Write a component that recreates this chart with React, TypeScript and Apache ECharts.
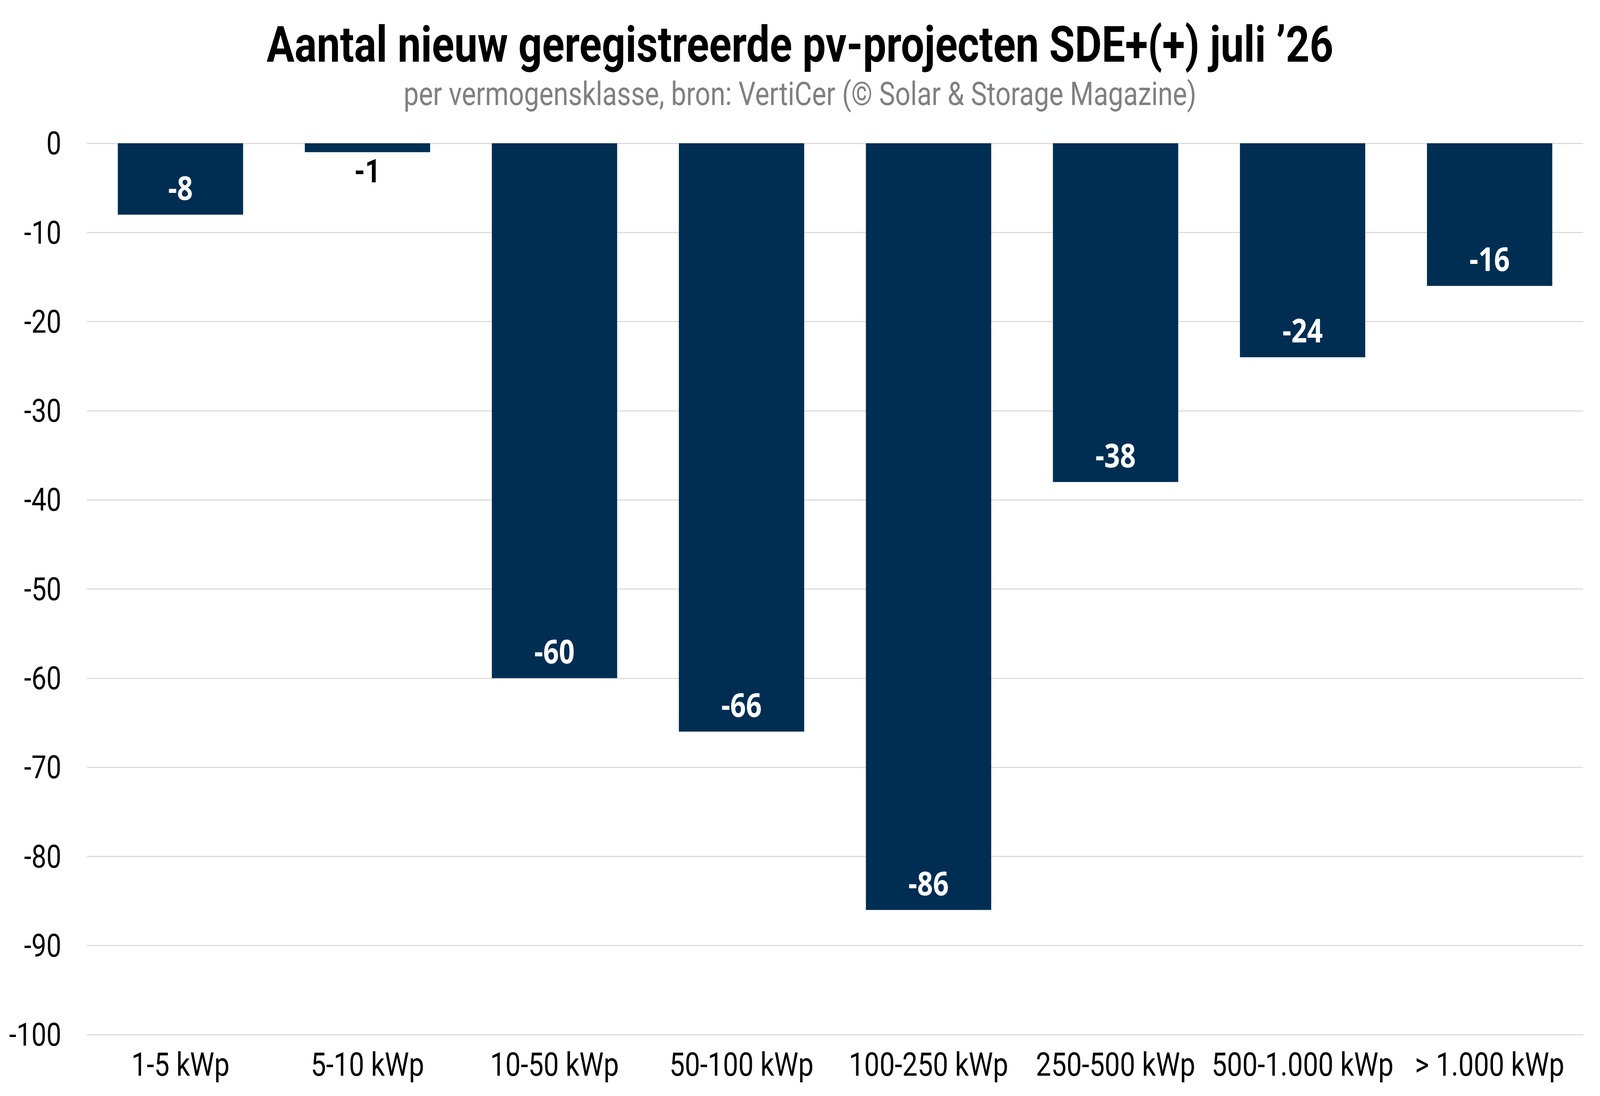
import React, { useEffect, useRef, useState } from "react";
import * as echarts from "echarts";

const TITLE = "Aantal nieuw geregistreerde pv-projecten SDE+(+) juli \u201926";
const SUBTITLE = "per vermogensklasse, bron: VertiCer (\u00a9 Solar & Storage Magazine)";
const categories = [
  "1-5 kWp",
  "5-10 kWp",
  "10-50 kWp",
  "50-100 kWp",
  "100-250 kWp",
  "250-500 kWp",
  "500-1.000 kWp",
  "> 1.000 kWp",
];
const values = [-8, -1, -60, -66, -86, -38, -24, -16];
const yMin = -100;
const yMax = 0;
const yInterval = 10;
const outsideLabelIndexes = [1];

const BAR_COLOR = "#002e52";
const DESIGN_W = 4932;
const DESIGN_H = 2807;

export default function App() {
  const ref = useRef<HTMLDivElement>(null);
  const [scale, setScale] = useState<[number, number]>(() => [
    typeof window !== "undefined" ? window.innerWidth / DESIGN_W : 1,
    typeof window !== "undefined" ? window.innerHeight / DESIGN_H : 1,
  ]);

  useEffect(() => {
    const onResize = () =>
      setScale([window.innerWidth / DESIGN_W, window.innerHeight / DESIGN_H]);
    window.addEventListener("resize", onResize);
    return () => window.removeEventListener("resize", onResize);
  }, []);

  useEffect(() => {
    if (!ref.current) return;
    const chart = echarts.init(ref.current, null, { renderer: "svg" });

    const data = values.map((v, i) => {
      if (outsideLabelIndexes.includes(i)) {
        return {
          value: v,
          label: {
            position: "bottom",
            distance: 6,
            color: "#000000",
            fontFamily: "Roboto",
            fontWeight: "bold",
            fontSize: 84,
          },
        };
      }
      return { value: v };
    });

    chart.setOption({
      animation: false,
      backgroundColor: "#ffffff",
      title: {
        text: TITLE,
        subtext: SUBTITLE,
        left: "center",
        top: 45,
        itemGap: 21,
        textStyle: {
          fontFamily: "Roboto",
          fontWeight: "bold",
          fontSize: 128,
          lineHeight: 128,
          color: "#000000",
        },
        subtextStyle: {
          fontFamily: "Roboto",
          fontWeight: "normal",
          fontSize: 83,
          lineHeight: 83,
          color: "#808080",
        },
      },
      grid: {
        left: 268,
        right: 52,
        top: 367,
        bottom: 157,
        containLabel: false,
      },
      xAxis: {
        type: "category",
        data: categories,
        axisLine: { show: false, onZero: false },
        axisTick: { show: false },
        axisLabel: {
          fontFamily: "Roboto",
          fontSize: 84,
          color: "#000000",
          margin: 34,
          interval: 0,
        },
      },
      yAxis: {
        type: "value",
        min: yMin,
        max: yMax,
        interval: yInterval,
        axisLine: { show: false },
        axisTick: { show: false },
        axisLabel: {
          fontFamily: "Roboto",
          fontSize: 82,
          color: "#000000",
          margin: 79,
        },
        splitLine: {
          show: true,
          lineStyle: { color: "#dcdcdc", width: 3 },
        },
      },
      series: [
        {
          type: "bar",
          data,
          barCategoryGap: "33%",
          itemStyle: { color: BAR_COLOR },
          label: {
            show: true,
            position: "insideBottom",
            distance: 28,
            color: "#ffffff",
            fontFamily: "Open Sans",
            fontWeight: "bold",
            fontSize: 85,
          },
        },
      ],
    });

    return () => {
      chart.dispose();
    };
  }, []);

  return (
    <div
      ref={ref}
      style={{
        position: "fixed",
        left: 0,
        top: 0,
        width: DESIGN_W,
        height: DESIGN_H,
        background: "#ffffff",
        transform: `scale(${scale[0]}, ${scale[1]})`,
        transformOrigin: "0 0",
      }}
    />
  );
}
